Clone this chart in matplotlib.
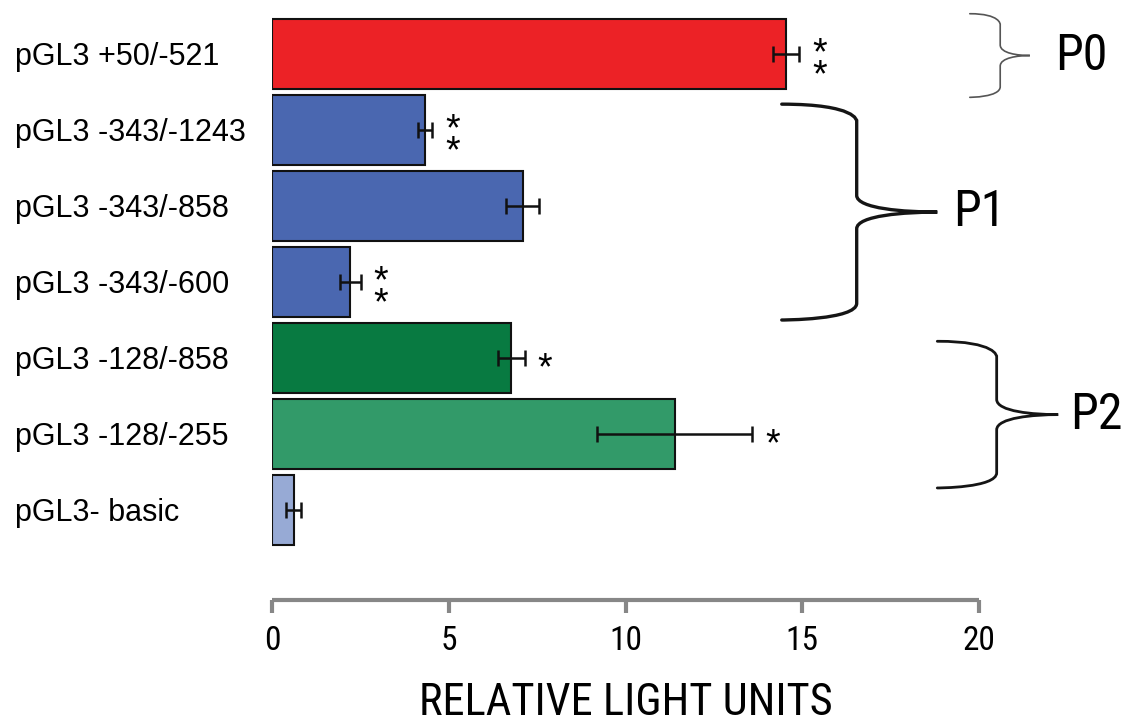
import matplotlib
matplotlib.use("Agg")
import matplotlib.pyplot as plt
from matplotlib.path import Path
from matplotlib.patches import PathPatch
from matplotlib.transforms import blended_transform_factory

# luciferase constructs, top to bottom
constructs = ["pGL3 +50/-521", "pGL3 -343/-1243", "pGL3 -343/-858",
              "pGL3 -343/-600", "pGL3 -128/-858", "pGL3 -128/-255",
              "pGL3- basic"]
rlu = [14.55, 4.33, 7.09, 2.22, 6.77, 11.39, 0.61]
rlu_err = [0.37, 0.20, 0.46, 0.29, 0.38, 2.19, 0.21]
stars = ["**", "**", "", "**", "*", "*", ""]
colors = ["#EC2226", "#4A67B0", "#4A67B0", "#4A67B0", "#087A41", "#329A69", "#97AAD5"]

# promoter regions and the rows they bracket (top, bottom in row units)
regions = ["P0", "P1", "P2"]
region_rows = [(-0.53, 0.57), (0.66, 3.50), (3.78, 5.71)]

narrow = ["Liberation Sans Narrow", "Arial Narrow", "Roboto Condensed",
          "PT Sans Narrow", "Archivo Narrow", "DejaVu Sans"]
regular = ["Liberation Sans", "DejaVu Sans"]

fig = plt.figure(figsize=(11.26, 7.26), dpi=100)
ax = fig.add_axes([272 / 1126, 1 - 600 / 726, 707 / 1126, 600 / 726])

ypos = list(range(len(constructs)))
ax.barh(ypos, rlu, height=0.92, color=colors, edgecolor="#111111", linewidth=1.5,
        xerr=rlu_err, error_kw=dict(ecolor="#111111", elinewidth=1.8,
                                    capsize=5.8, capthick=1.8))

# significance marks right of the error bars (stacked one per line)
for i, s in enumerate(stars):
    if not s:
        continue
    ax.annotate("\n".join(s), (rlu[i] + rlu_err[i], i), xytext=(14.5, -8),
                textcoords="offset points", ha="center", va="center",
                fontsize=27, family=regular, linespacing=0.5)

ax.set_xlim(0, 20)
ax.set_ylim(6 + 90 / 76, -54 / 76)
ax.set_xticks([0, 5, 10, 15, 20])
ax.set_yticks(ypos)
ax.set_yticklabels(constructs, fontsize=22, family=regular, ha="left")
ax.tick_params(axis="y", length=0, pad=257 * 0.72)
ax.tick_params(axis="x", direction="out", length=9, width=3, color="#878787",
               pad=9, labelsize=24)
for lab in ax.get_xticklabels():
    lab.set_family(narrow)
    lab.set_stretch("condensed")

for side in ["top", "right", "left"]:
    ax.spines[side].set_visible(False)
ax.spines["bottom"].set_color("#878787")
ax.spines["bottom"].set_linewidth(3)
ax.spines["bottom"].set_capstyle("butt")

ax.set_xlabel("RELATIVE LIGHT UNITS", fontsize=32, family=narrow,
              stretch="condensed", labelpad=18)


def brace(x0, xv, xt, top, bottom, r, **kw):
    # right-facing curly brace, x in axes fraction, y in row units
    mid = (top + bottom) / 2
    verts = [
        (x0, top), (xv, top), (xv, top + r), (xv, top + r),
        (xv, mid - r),
        (xv, mid - 0.2 * r), (xt - 0.4 * (xt - xv), mid), (xt, mid),
        (xt - 0.4 * (xt - xv), mid), (xv, mid + 0.2 * r), (xv, mid + r),
        (xv, bottom - r),
        (xv, bottom), (x0, bottom), (x0, bottom),
    ]
    codes = [Path.MOVETO, Path.CURVE4, Path.CURVE4, Path.CURVE4,
             Path.LINETO,
             Path.CURVE4, Path.CURVE4, Path.CURVE4,
             Path.CURVE4, Path.CURVE4, Path.CURVE4,
             Path.LINETO,
             Path.CURVE4, Path.CURVE4, Path.CURVE4]
    trans = blended_transform_factory(ax.transAxes, ax.transData)
    patch = PathPatch(Path(verts, codes), fill=False, transform=trans,
                      clip_on=False, capstyle="round", **kw)
    ax.add_patch(patch)


brace_x = [(0.987, 1.030, 1.072), (0.721, 0.827, 0.941), (0.941, 1.025, 1.112)]
brace_r = [0.14, 0.22, 0.20]
brace_style = [dict(lw=1.2, edgecolor="#555555"), dict(lw=2.4, edgecolor="#151515"),
               dict(lw=2.0, edgecolor="#151515")]
label_x = [1.107, 0.963, 1.129]
trans_lab = blended_transform_factory(ax.transAxes, ax.transData)
for name, (top, bottom), bx, r, st, lx in zip(regions, region_rows, brace_x,
                                               brace_r, brace_style, label_x):
    brace(bx[0], bx[1], bx[2], top, bottom, r, **st)
    ax.text(lx, (top + bottom) / 2, name, transform=trans_lab, ha="left",
            va="center", fontsize=36, family=narrow, stretch="condensed",
            clip_on=False)

fig.savefig("out.png", dpi=100)
